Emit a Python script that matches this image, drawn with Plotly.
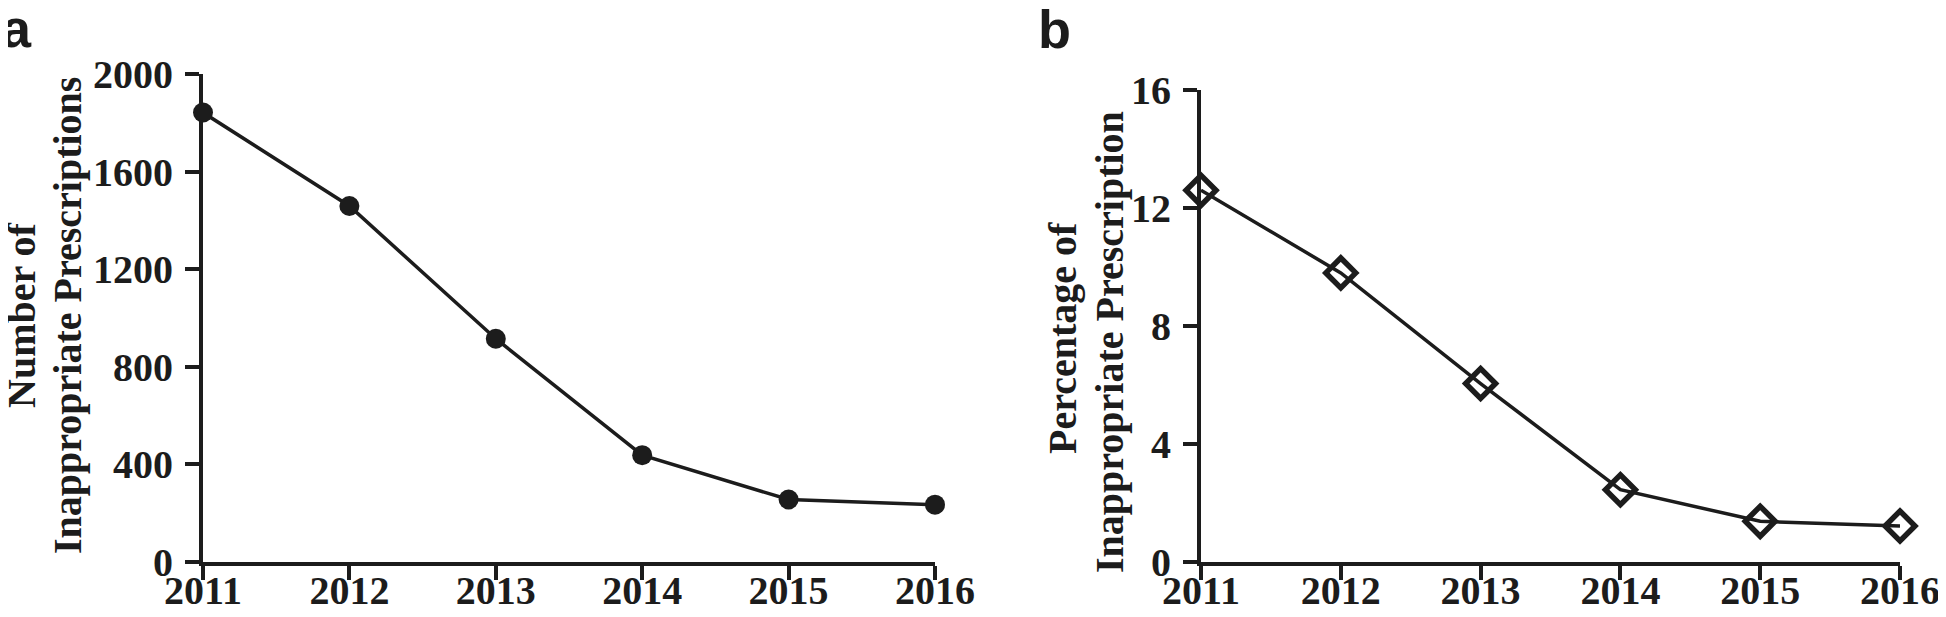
import plotly.graph_objects as go
from plotly.subplots import make_subplots

years = [2011, 2012, 2013, 2014, 2015, 2016]
number_inappropriate = [1842, 1459, 915, 438, 256, 235]
percent_inappropriate = [12.6, 9.8, 6.05, 2.45, 1.38, 1.22]

INK = "#1c1c1c"
SERIF = "Liberation Serif"

# page body has an 8px margin, so the figure is 8px smaller and positions are shifted
W, H = 1938, 609
OFF = 8


def px(x):
    return (x - OFF) / W


def py(y):
    return 1 - (y - OFF) / H


fig = make_subplots(rows=1, cols=2)

fig.add_trace(go.Scatter(x=years, y=number_inappropriate, mode="lines+markers",
                         line=dict(color=INK, width=3.5),
                         marker=dict(symbol="circle", size=20, color=INK),
                         cliponaxis=False, showlegend=False), row=1, col=1)
fig.add_trace(go.Scatter(x=years, y=percent_inappropriate, mode="lines+markers",
                         line=dict(color=INK, width=3.5),
                         marker=dict(symbol="diamond-open", size=23, color=INK,
                                     line=dict(color=INK, width=5.5)),
                         cliponaxis=False, showlegend=False), row=1, col=2)

tick_font = dict(family=SERIF, size=40, color=INK, weight="bold")
axis_style = dict(showgrid=False, zeroline=False, showline=True, linecolor=INK, linewidth=4,
                  ticks="outside", ticklen=14, tickwidth=4, tickcolor=INK, tickfont=tick_font,
                  automargin=False)

fig.update_xaxes(axis_style, range=[2011, 2016], tickvals=years, ticklabelstandoff=-24)
fig.update_xaxes(domain=[px(203), px(935)], row=1, col=1)
fig.update_xaxes(domain=[px(1201), px(1900)], row=1, col=2)

fig.update_yaxes(axis_style, ticklabelstandoff=4)
fig.update_yaxes(range=[0, 2000], tickvals=[0, 400, 800, 1200, 1600, 2000],
                 domain=[py(562), py(74)], row=1, col=1)
fig.update_yaxes(range=[0, 16], tickvals=[0, 4, 8, 12, 16],
                 domain=[py(562), py(90)], row=1, col=2)

title_font = dict(family=SERIF, size=40, color=INK, weight="bold")
titles = [("Number of", 21, 316), ("Inappropriate Prescriptions", 67, 316),
          ("Percentage of", 1062, 338), ("Inappropriate Prescription", 1109, 342)]
for text, tx, ty in titles:
    fig.add_annotation(text=text, textangle=-90, x=px(tx), y=py(ty), xref="paper", yref="paper",
                       xanchor="center", yanchor="middle", showarrow=False, font=title_font)

letter_font = dict(family="Liberation Sans", size=54, color=INK, weight="bold")
fig.add_annotation(text="a", x=px(-1), y=py(-4), xref="paper", yref="paper",
                   xanchor="left", yanchor="top", showarrow=False, font=letter_font)
fig.add_annotation(text="b", x=px(1036), y=py(-3), xref="paper", yref="paper",
                   xanchor="left", yanchor="top", showarrow=False, font=letter_font)

fig.update_layout(width=W, height=H, margin=dict(l=0, r=0, t=0, b=0),
                  paper_bgcolor="white", plot_bgcolor="white")

fig.write_html("out.html")
